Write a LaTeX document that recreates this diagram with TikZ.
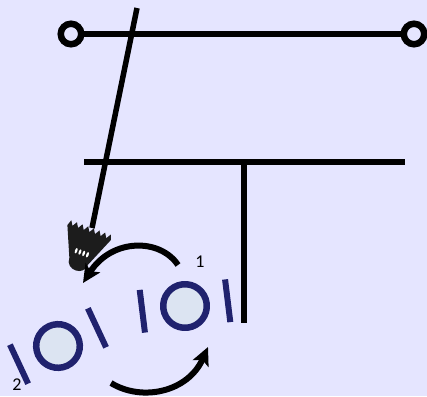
\documentclass[tikz,border=0pt]{standalone}
\usepackage{fontspec}
\setmainfont{Carlito}
\usetikzlibrary{arrows.meta}
\definecolor{bg}{RGB}{229,229,255}
\definecolor{navy}{RGB}{32,34,110}
\definecolor{discfill}{RGB}{220,228,242}
\definecolor{shuttle}{RGB}{28,28,28}
\tikzset{
  wire/.style={line width=5.5pt, black},
  terminal/.style={circle, draw=black, line width=6.5pt, fill=bg, minimum size=20.5pt, inner sep=0pt, outer sep=0pt},
  motion/.style={line width=6pt, black, -{Stealth[length=18pt, width=17pt, inset=4pt]}},
  tag/.style={font=\fontsize{18pt}{18pt}\selectfont, inner sep=0pt},
  disc/.pic={
    \draw[navy, fill=discfill, line width=6.5pt] (0,0) circle (21.8);
    \draw[navy, line width=6pt] (-43,-21.5) -- (-43,21.5);
    \draw[navy, line width=6pt] (43,-21.5) -- (43,21.5);
  },
  birdie/.pic={
    \fill[shuttle] (-23,0) -- (-21,-6) -- (-18,-1) -- (-15,-6) -- (-12,-1) -- (-9,-6)
      -- (-6,-1) -- (-3,-6) -- (0,-1) -- (3,-6) -- (6,-1) -- (9,-6) -- (12,-1)
      -- (15,-6) -- (18,-1) -- (21,-6) -- (23,-1) -- (10,30)
      .. controls (10,43) and (-10,43) .. (-10,30) -- cycle;
    \foreach \u in {-6,-2,2,6}
      \fill[white] (\u,21) ellipse (1.2 and 2.8);
  }
}
\begin{document}
\begin{tikzpicture}[x=1pt, y=-1pt]
  \fill[bg] (0,0) rectangle (427,396);
  \useasboundingbox (0,0) rectangle (427,396);

  % supply rail with its two terminals
  \node[terminal] (tl) at (71,34) {};
  \node[terminal] (tr) at (414,34) {};
  \draw[wire] (tl) -- (tr);

  % lower rail and the post hanging from it
  \coordinate (ml) at (84,162);
  \coordinate (mr) at (405,162);
  \coordinate (vt) at (244,160);
  \coordinate (vb) at (244,323);
  \draw[wire] (ml) -- (mr);
  \draw[wire] (vt) -- (vb);

  % slanted string down to the shuttlecock
  \coordinate (st) at (137,8);
  \coordinate (sb) at (92,228);
  \draw[wire] (st) -- (sb);
  \pic[rotate=-20] at (89,233) {birdie};

  % the two discs
  \pic[rotate=7] at (185,306) {disc};
  \pic[rotate=25] at (58,346) {disc};

  % motion arrows
  \coordinate (a1s) at (178,265);
  \coordinate (a1e) at (83,283);
  \draw[motion] (a1s) .. controls (160,238) and (112,238) .. (a1e);
  \coordinate (a2s) at (111,383);
  \coordinate (a2e) at (208,347);
  \draw[motion] (a2s) .. controls (142,402) and (188,392) .. (a2e);

  \node[tag] (n1) at (200,262) {1};
  \node[tag] (n2) at (17,385) {2};
\end{tikzpicture}
\end{document}
